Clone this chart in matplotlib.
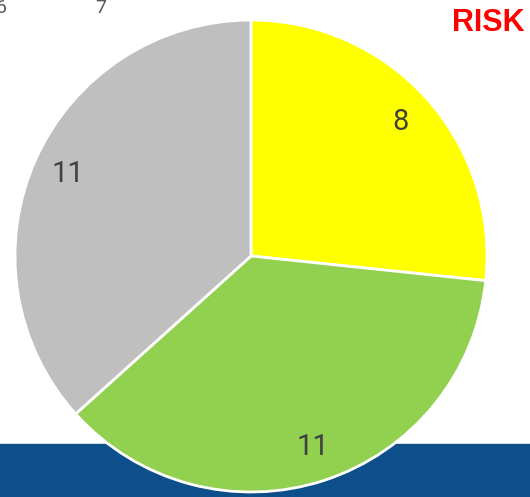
import matplotlib.pyplot as plt
from matplotlib.patches import Rectangle

values = [8, 11, 11]
labels = ["8", "11", "11"]
colors = ["#FFFF00", "#92D050", "#BFBFBF"]
top_labels = ["6", "7"]

W, H = 530, 497
fig = plt.figure(figsize=(W / 100, H / 100), dpi=100)
ax = fig.add_axes([0, 0, 1, 1])

# blue footer band behind the pie
ax.add_patch(Rectangle((0, 0), W, 53, color="#0C4F8A", zorder=0))

wedges, texts = ax.pie(values, labels=labels, colors=colors, startangle=90,
                       counterclock=False, center=(251, 241), radius=236,
                       labeldistance=0.85, frame=True,
                       wedgeprops=dict(edgecolor="white", linewidth=2),
                       textprops=dict(fontsize=21, color="#404040", family="Roboto"))
for t in texts:
    t.set_ha("center")
    t.set_va("center")
for w in wedges:
    w.set_zorder(2)

ax.set_xlim(0, W)
ax.set_ylim(0, H)
ax.set_aspect("auto")
ax.axis("off")

ax.text(525, 474, "RISK", color="red", fontsize=22, fontweight="bold",
        family="Liberation Sans", ha="right", va="center")
ax.text(1, 484, top_labels[0], color="#595959", fontsize=14, family="Roboto",
        ha="center", va="baseline")
ax.text(101, 484, top_labels[1], color="#595959", fontsize=14, family="Roboto",
        ha="center", va="baseline")

fig.savefig("out.png", dpi=100)
